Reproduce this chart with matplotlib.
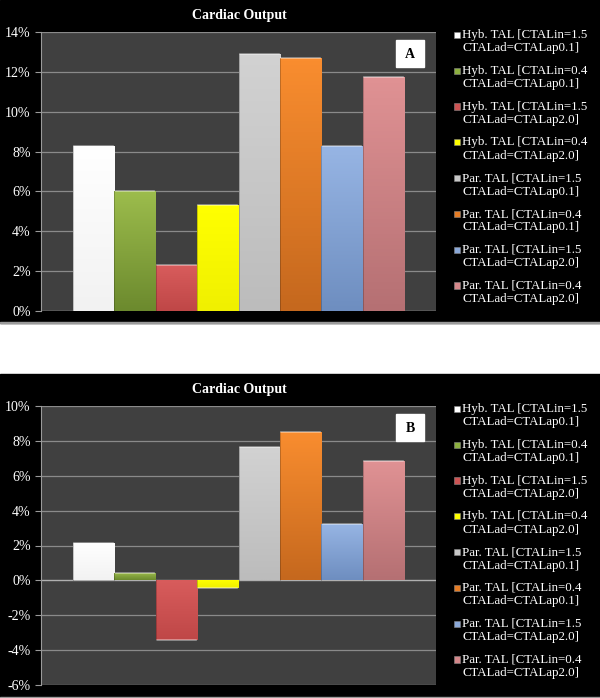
import matplotlib.pyplot as plt
import numpy as np
from matplotlib.colors import to_rgb
from matplotlib.patches import Rectangle

series = ['Hyb. TAL [CTALin=1.5\nCTALad=CTALap0.1]',
          'Hyb. TAL [CTALin=0.4\nCTALad=CTALap0.1]',
          'Hyb. TAL [CTALin=1.5\nCTALad=CTALap2.0]',
          'Hyb. TAL [CTALin=0.4\nCTALad=CTALap2.0]',
          'Par. TAL [CTALin=1.5\nCTALad=CTALap0.1]',
          'Par. TAL [CTALin=0.4\nCTALad=CTALap0.1]',
          'Par. TAL [CTALin=1.5\nCTALad=CTALap2.0]',
          'Par. TAL [CTALin=0.4\nCTALad=CTALap2.0]']
values_a = [8.3, 6.0, 2.3, 5.3, 12.9, 12.7, 8.3, 11.75]
values_b = [2.15, 0.43, -3.4, -0.42, 7.67, 8.5, 3.22, 6.85]

col_top = ['#ffffff', '#9cbc4c', '#d85c5c', '#ffff00', '#d2d2d2', '#f98d2f', '#97b5e4', '#e09294']
col_bot = ['#f2f2f2', '#6c8a2e', '#bf4747', '#f0f000', '#bcbcbc', '#c5681e', '#6e8ec0', '#b57073']
col_leg = ['#ffffff', '#8db040', '#cd5454', '#ffff00', '#c8c8c8', '#e57c25', '#8aa8d8', '#d4878a']

W, H = 600, 698
serif = 'Liberation Serif'
plt.rcParams['font.family'] = serif

fig = plt.figure(figsize=(W / 100, H / 100), dpi=100, facecolor='white')


def fx(x):
    return x / W


def fy(y):
    return 1 - y / H


def panel(top, bottom, vals, ymin, ymax, letter):
    fig.patches.append(Rectangle((0, fy(bottom)), 1, (bottom - top) / H,
                                 transform=fig.transFigure, color='black', zorder=-2))
    fig.patches.append(Rectangle((0, fy(bottom)), 1, 1.2 / H,
                                 transform=fig.transFigure, color='#9a9a9a', zorder=-1))

    ax_top = top + 32
    ax_bot = top + 311
    ax = fig.add_axes([fx(41), fy(ax_bot), fx(395), (ax_bot - ax_top) / H])
    ax.set_facecolor('#404040')
    x = np.arange(len(vals))
    bars = ax.bar(x, vals, width=1.0, color=col_leg, edgecolor='none', zorder=3)
    g = np.linspace(0, 1, 64)[:, None]
    for bar, v, c1, c2 in zip(bars, vals, col_top, col_bot):
        a, b = np.array(to_rgb(c2)), np.array(to_rgb(c1))
        img = (a + (b - a) * g)[:, None, :]
        lo, hi = min(0, v), max(0, v)
        x0 = bar.get_x()
        im = ax.imshow(img, extent=[x0, x0 + 1, lo, hi], origin='lower',
                       aspect='auto', zorder=3.5)
        im.set_clip_path(bar)
        # light rim on top of each bar
        ax.plot([x0 + 0.03, x0 + 0.97], [v, v], color='white', alpha=0.45,
                lw=1.2, zorder=4)
        ax.plot([x0, x0], [lo, hi], color='black', alpha=0.25, lw=0.6, zorder=4)

    ax.set_xlim(-0.5 - 0.77, 7.5 + 0.77)
    ax.set_ylim(ymin, ymax)
    ticks = np.arange(ymin, ymax + 1, 2)
    ax.set_yticks(ticks)
    ax.set_yticklabels(['%d%%' % t for t in ticks], fontsize=10, color='white',
                       family=serif)
    ax.yaxis.grid(True, color='#8a8a8a', lw=0.9, zorder=1)
    ax.set_axisbelow(True)
    ax.set_xticks([])
    for s in ['top', 'right', 'bottom']:
        ax.spines[s].set_visible(False)
    ax.spines['left'].set_color('#9a9a9a')
    ax.tick_params(axis='y', colors='#9a9a9a', length=4, width=0.8, labelcolor='white')
    ax.axhline(0, color='#b0b0b0', lw=0.9, zorder=2)

    fig.text(fx(239), fy(top + 15.5), 'Cardiac Output', color='white', fontsize=10,
             fontweight='bold', ha='center', va='center', family=serif)

    # letter box
    fig.patches.append(Rectangle((fx(396), fy(top + 67)), fx(28), 27 / H,
                                 transform=fig.transFigure, color='white', zorder=5))
    fig.text(fx(410), fy(top + 54), letter, color='black', fontsize=10,
             fontweight='bold', ha='center', va='center', family=serif, zorder=6)

    # legend
    for i, (lab, c) in enumerate(zip(series, col_leg)):
        yt = top + 29 + 35.8 * i
        fig.patches.append(Rectangle((fx(453.5), fy(yt + 9)), fx(6.2), 6.2 / H,
                                     transform=fig.transFigure, facecolor=c,
                                     edgecolor='#888888', lw=0.4, zorder=5))
        fig.text(fx(462.5), fy(yt), lab, color='white', fontsize=9.3, ha='left',
                 va='top', linespacing=1.15, family=serif)


panel(0, 323, values_a, 0, 14, 'A')
panel(374, 698, values_b, -6, 10, 'B')

fig.savefig('out.png', dpi=100, facecolor='white')
